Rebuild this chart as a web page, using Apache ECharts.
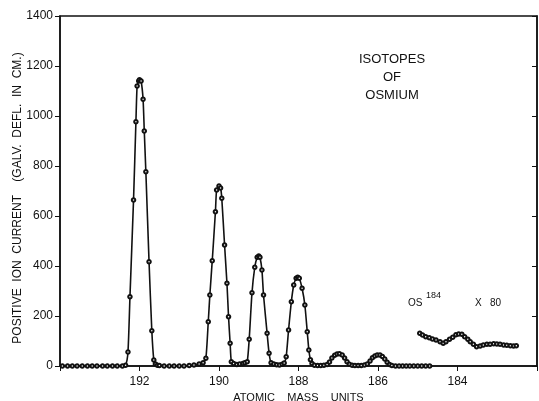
<!DOCTYPE html>
<html>
<head>
<meta charset="utf-8">
<script src="https://cdn.jsdelivr.net/npm/echarts@6/dist/echarts.min.js"></script>
<style>
  html, body { margin: 0; padding: 0; background: #fff; }
  #chart { width: 539px; height: 401px; }
</style>
</head>
<body>
<div id="chart"></div>
<script>
// main scan, atomic mass units vs galvanometer deflection
var massMain = [
  193.94, 193.81, 193.69, 193.57, 193.44, 193.31, 193.19, 193.07, 192.93, 192.81, 192.68, 192.56, 192.43,
  192.35, 192.29, 192.24, 192.15, 192.09, 192.06, 192.02, 192.00, 191.96, 191.91, 191.88, 191.84, 191.76, 191.69, 191.64, 191.60, 191.55,
  191.50, 191.38, 191.25, 191.13, 191.00, 190.88, 190.75, 190.63, 190.50, 190.40,
  190.33, 190.27, 190.23, 190.17, 190.09, 190.06, 190.00, 189.96, 189.93, 189.86, 189.80, 189.76, 189.72, 189.69,
  189.63, 189.55, 189.48, 189.40, 189.35,
  189.29, 189.24, 189.17, 189.10, 189.04, 189.00, 188.97, 188.92, 188.88, 188.79, 188.74, 188.69,
  188.62, 188.55, 188.48, 188.41, 188.36,
  188.31, 188.25, 188.18, 188.12, 188.06, 188.02, 187.98, 187.91, 187.84, 187.78, 187.74, 187.70, 187.66,
  187.60, 187.52, 187.44, 187.36, 187.28,
  187.22, 187.16, 187.09, 187.03, 186.97, 186.90, 186.84, 186.78, 186.72,
  186.65, 186.58, 186.50, 186.42, 186.34, 186.27,
  186.20, 186.14, 186.08, 186.02, 185.95, 185.89, 185.83, 185.77, 185.71, 185.65,
  185.56, 185.47, 185.38, 185.29, 185.20, 185.10, 185.00, 184.90, 184.80, 184.70
];
var currentMain = [
  0, 0, 0, 0, 0, 0, 0, 0, 0, 0, 0, 0, 0,
  3, 56, 277, 664, 977, 1120, 1140, 1145, 1140, 1067, 940, 777, 417, 141, 24, 8, 3,
  2, 0, 0, 0, 0, 0, 2, 4, 8, 13,
  31, 177, 284, 421, 617, 704, 720, 712, 671, 484, 331, 197, 91, 17,
  10, 6, 8, 10, 13,
  17, 107, 293, 395, 435, 440, 435, 384, 284, 131, 51, 13,
  8, 5, 4, 7, 12,
  37, 144, 257, 324, 351, 355, 351, 311, 244, 137, 64, 25, 10,
  3, 2, 2, 3, 6,
  16, 32, 43, 48, 49, 44, 32, 17, 7,
  3, 2, 2, 2, 4, 8,
  20, 33, 40, 44, 44, 38, 28, 15, 6, 2,
  0, 0, 0, 0, 0, 0, 0, 0, 0, 0
];
// Os184 region, magnified x 80
var massOs184 = [
  184.95, 184.88, 184.80, 184.71, 184.63, 184.54, 184.44, 184.36, 184.29, 184.20, 184.12, 184.04,
  183.97, 183.89, 183.82, 183.74, 183.68, 183.60, 183.52, 183.43, 183.35, 183.26, 183.18, 183.09,
  183.01, 182.93, 182.84, 182.76, 182.67, 182.59, 182.52
];
var currentOs184 = [
  131, 124, 117, 113, 108, 104, 97, 91, 97, 107, 115, 125,
  128, 127, 117, 107, 97, 87, 77, 80, 84, 87, 87, 89,
  88, 87, 84, 83, 81, 80, 81
];
var yTicks = [0, 200, 400, 600, 800, 1000, 1200, 1400];
var xTicks = [192, 190, 188, 186, 184];

function pairs(xs, ys) {
  return xs.map(function (x, i) { return [x, ys[i]]; });
}

var chart = echarts.init(document.getElementById('chart'));
var font = 'Liberation Sans';
var ink = '#111';

var lineSeries = function (data) {
  return {
    type: 'line',
    data: data,
    symbol: 'emptyCircle',
    symbolSize: 3.5,
    showAllSymbol: true,
    smooth: 0.2,
    lineStyle: { color: ink, width: 1.6 },
    itemStyle: { color: ink, borderColor: ink, borderWidth: 0.8 },
    emphasis: { disabled: true },
    z: 3
  };
};

var option = {
  animation: false,
  backgroundColor: '#fff',
  grid: {
    left: 60, right: 2, top: 16, bottom: 35,
    outerBoundsMode: 'none',
    containLabel: false,
    show: true, borderColor: ink, borderWidth: 1.5
  },
  xAxis: {
    type: 'value',
    inverse: true,
    min: 182, max: 194, interval: 2,
    name: 'ATOMIC    MASS    UNITS',
    nameLocation: 'middle',
    nameGap: 25,
    nameTextStyle: { fontFamily: font, fontSize: 11, color: ink },
    axisLine: { onZero: false, lineStyle: { color: ink, width: 1.5 } },
    axisTick: { show: true, inside: false, length: 5, lineStyle: { color: ink } },
    axisLabel: {
      fontFamily: font, fontSize: 12, color: ink, margin: 10,
      formatter: function (v) { return xTicks.indexOf(v) >= 0 ? String(v) : ''; }
    },
    splitLine: { show: false }
  },
  yAxis: [{
    type: 'value',
    min: 0, max: 1400, interval: 200,
    axisLine: { show: true, lineStyle: { color: ink, width: 1.5 } },
    axisTick: { show: true, inside: false, length: 5, lineStyle: { color: ink } },
    axisLabel: {
      fontFamily: font, fontSize: 12, color: ink, margin: 7,
      formatter: function (v) { return yTicks.indexOf(v) >= 0 ? String(v) : ''; }
    },
    splitLine: { show: false }
  }, {
    type: 'value',
    position: 'right',
    min: 0, max: 1400, interval: 200,
    axisLine: { show: true, lineStyle: { color: ink, width: 1.5 } },
    axisTick: { show: true, inside: true, length: 5, lineStyle: { color: ink } },
    axisLabel: { show: false },
    splitLine: { show: false }
  }],
  series: [
    lineSeries(pairs(massMain, currentMain)),
    lineSeries(pairs(massOs184, currentOs184))
  ],
  graphic: [{
    type: 'text',
    x: 18, y: 198,
    rotation: Math.PI / 2,
    style: {
      text: 'POSITIVE  ION  CURRENT    (GALV.  DEFL.  IN  CM.)',
      font: '12px "Liberation Sans"',
      fill: ink, align: 'center', verticalAlign: 'middle'
    }
  }, {
    type: 'text',
    x: 392, y: 50,
    style: {
      text: 'ISOTOPES\nOF\nOSMIUM',
      font: '13px "Liberation Sans"',
      fill: ink, align: 'center', lineHeight: 18
    }
  }, {
    type: 'text',
    x: 408, y: 298,
    style: { text: 'OS', font: '10px "Liberation Sans"', fill: ink }
  }, {
    type: 'text',
    x: 426, y: 291,
    style: { text: '184', font: '9px "Liberation Sans"', fill: ink }
  }, {
    type: 'text',
    x: 475, y: 298,
    style: { text: 'X', font: '10px "Liberation Sans"', fill: ink }
  }, {
    type: 'text',
    x: 490, y: 298,
    style: { text: '80', font: '10px "Liberation Sans"', fill: ink }
  }]
};

chart.setOption(option);
</script>
</body>
</html>
